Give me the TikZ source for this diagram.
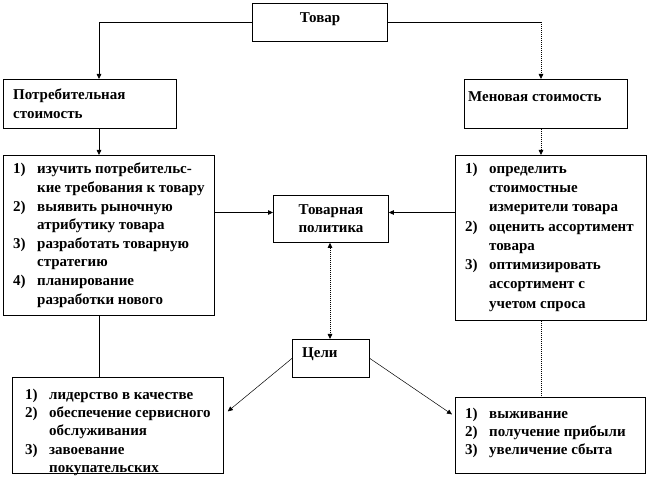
\documentclass[tikz,border=0pt]{standalone}
\usepackage{fontspec}
\setmainfont{Liberation Serif}
\usetikzlibrary{arrows.meta}

\tikzset{
  box/.style={draw, line width=0.8pt, inner sep=0pt, anchor=north west},
  txt/.style={inner sep=0pt, align=left, anchor=north west, font=\fontsize{15}{18.6}\selectfont\bfseries},
  arr/.style={-{Triangle[length=5pt,width=4.5pt]}, line width=0.8pt},
  dotl/.style={dash pattern=on 1pt off 1pt}
}
\newcommand{\nmb}[1]{\makebox[24pt][l]{#1}}

\begin{document}
\begin{tikzpicture}[x=1pt,y=-1pt]
\useasboundingbox (0,0) rectangle (649,486);

% boxes
\node[box, minimum width=135pt, minimum height=38pt] (tovar) at (252,3) {};
\node[box, minimum width=173pt, minimum height=49pt] (potr) at (3,79) {};
\node[box, minimum width=163pt, minimum height=49pt] (men) at (464,79) {};
\node[box, minimum width=211pt, minimum height=160pt] (listl) at (3,155) {};
\node[box, minimum width=191pt, minimum height=165pt] (listr) at (455,155) {};
\node[box, minimum width=115pt, minimum height=47pt] (tpol) at (273,195) {};
\node[box, minimum width=77pt, minimum height=38pt] (tseli) at (292,339) {};
\node[box, minimum width=211pt, minimum height=96pt] (goalsl) at (12,377) {};
\node[box, minimum width=190pt, minimum height=76pt] (goalsr) at (455,397) {};

% texts
\node[txt, anchor=base] (tovar-t) at (320,23) {Товар};
\node[txt] (potr-t) at (13,88.5) {Потребительная\\стоимость};
\node[txt] (men-t) at (468,91) {Меновая стоимость};
\node[txt, align=center, anchor=north] (tpol-t) at (331,204) {Товарная\\политика};
\node[txt, anchor=base west] (tseli-t) at (302,358) {Цели};
\node[txt] (listl-t) at (13,163) {\nmb{1)}изучить потребительс-\\\nmb{}кие требования к товару\\
  \nmb{2)}выявить рыночную\\\nmb{}атрибутику товара\\
  \nmb{3)}разработать товарную\\\nmb{}стратегию\\
  \nmb{4)}планирование\\\nmb{}разработки нового};
\node[txt, font=\fontsize{15}{19.3}\selectfont\bfseries] (listr-t) at (465,162.5) {\nmb{1)}определить\\\nmb{}стоимостные\\\nmb{}измерители товара\\
  \nmb{2)}оценить ассортимент\\\nmb{}товара\\
  \nmb{3)}оптимизировать\\\nmb{}ассортимент с\\\nmb{}учетом спроса};
\node[txt, font=\fontsize{15}{18.3}\selectfont\bfseries] (goalsl-t) at (25,388.5) {\nmb{1)}лидерство в качестве\\
  \nmb{2)}обеспечение сервисного\\\nmb{}обслуживания\\
  \nmb{3)}завоевание\\\nmb{}покупательских};
\node[txt, font=\fontsize{15}{18}\selectfont\bfseries] (goalsr-t) at (465,407.5) {\nmb{1)}выживание\\
  \nmb{2)}получение прибыли\\
  \nmb{3)}увеличение сбыта};

% columns for the connectors
\coordinate (colL) at (99,0);
\coordinate (colR) at (541,0);
\coordinate (colM) at (330,0);
\coordinate (rowP) at (0,212.5);

\draw[arr] (tovar.west) -| (colL |- potr.north);
\draw[line width=0.8pt] (tovar.east) -- (colR |- tovar.east);
\draw[arr, dotl] (colR |- tovar.east) -- (colR |- men.north);
\draw[arr] (colL |- potr.south) -- (colL |- listl.north);
\draw[arr, dotl] (colR |- men.south) -- (colR |- listr.north);
\draw[arr] (listl.east |- rowP) -- (tpol.west |- rowP);
\draw[arr] (listr.west |- rowP) -- (tpol.east |- rowP);
\draw[line width=0.8pt, dotl, {Triangle[length=5pt,width=4.5pt]}-{Triangle[length=5pt,width=4.5pt]}] (colM |- tpol.south) -- (colM |- tseli.north);
\draw[line width=0.8pt] (colL |- listl.south) -- (colL |- goalsl.north);
\draw[line width=0.8pt, dotl] (colR |- listr.south) -- (colR |- goalsr.north);
\draw[arr, line width=0.5pt] (tseli.west) -- ([shift={(4pt,14pt)}]goalsl.east);
\draw[arr, line width=0.5pt] (tseli.east) -- ([shift={(-3pt,21pt)}]goalsr.west);
\end{tikzpicture}
\end{document}
